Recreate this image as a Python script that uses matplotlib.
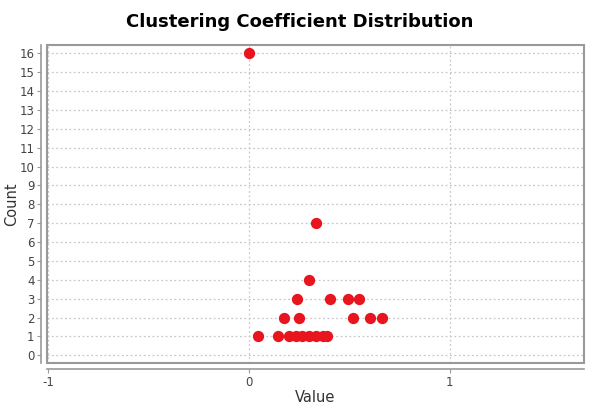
import matplotlib
matplotlib.use("Agg")
import matplotlib.pyplot as plt
from matplotlib.patches import Rectangle

# Data
values = [0.0, 0.333, 0.30,
          0.24, 0.406, 0.494, 0.547,
          0.176, 0.249, 0.521, 0.602, 0.665,
          0.048, 0.143, 0.20, 0.233, 0.267, 0.30, 0.333, 0.367, 0.39]
counts = [16, 7, 4,
          3, 3, 3, 3,
          2, 2, 2, 2, 2,
          1, 1, 1, 1, 1, 1, 1, 1, 1]
x_ticks = [-1, 0, 1]
y_ticks = list(range(0, 17))

title = "Clustering Coefficient Distribution"
xlabel = "Value"
ylabel = "Count"

fig = plt.figure(figsize=(6.0, 4.16), dpi=100)
ax = fig.add_axes([47/600, 1-363/416, (584-47)/600, (363-45)/416])

ax.scatter(values, counts, s=66, color="#e8141e", zorder=3, linewidths=0)

ax.set_xlim(-1.005, 1.669)
ax.set_ylim(-0.41, 16.44)
ax.set_xticks(x_ticks)
ax.set_yticks(y_ticks)
ax.set_xticklabels([str(t) for t in x_ticks])
ax.set_yticklabels([str(t) for t in y_ticks])

ax.grid(True, color="#c8c8c8", linestyle=(0, (1.5, 2)), linewidth=0.9)
ax.set_axisbelow(True)

for s in ["top", "right"]:
    ax.spines[s].set_visible(False)
ax.spines["left"].set_position(("outward", 4))
ax.spines["bottom"].set_position(("outward", 4))
for s in ["left", "bottom"]:
    ax.spines[s].set_color("#999999")
    ax.spines[s].set_linewidth(1.2)

# plot border box
ax.add_patch(Rectangle((0, 0), 1, 1, transform=ax.transAxes, fill=False,
                       edgecolor="#999999", linewidth=1.5, zorder=5, clip_on=False))

ax.tick_params(axis="both", colors="#999999", length=3, width=0.8,
               labelcolor="#444444", labelsize=8.5, pad=2)

ax.set_xlabel(xlabel, fontsize=10.5, color="#333333", va="center")
ax.set_ylabel(ylabel, fontsize=10.5, color="#333333", va="center")
ax.yaxis.set_label_coords(-0.065, 0.5)
ax.xaxis.set_label_coords(0.5, -0.11)

fig.text(0.5, 1-22/416, title, ha="center", va="center",
         fontsize=13, fontweight="bold", color="black")

fig.savefig("out.png", dpi=100, facecolor="white")
